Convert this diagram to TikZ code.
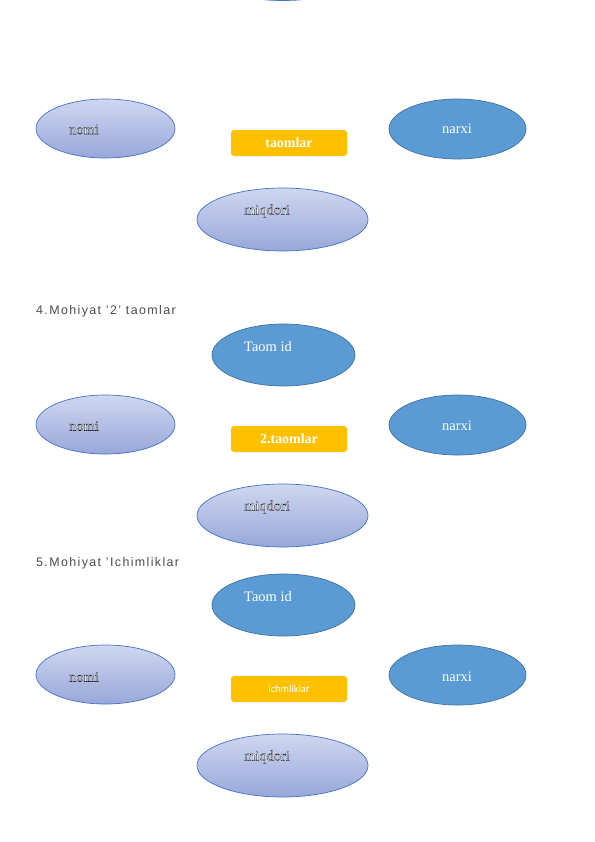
\documentclass[tikz,border=0pt]{standalone}
\usepackage{fontspec}
\setmainfont{Liberation Serif}
\newfontfamily\hdrfont[LetterSpace=11]{Liberation Sans}
\newfontfamily\boxsans{Carlito}
\usetikzlibrary{shapes.geometric}
\definecolor{lbtop}{HTML}{CFD7F0}
\definecolor{lbbot}{HTML}{97A7D9}
\definecolor{lbdraw}{HTML}{4472C4}
\definecolor{dbfill}{HTML}{5B9BD5}
\definecolor{dbdraw}{HTML}{41719C}
\definecolor{boxor}{HTML}{FFC000}
\newcommand\olt[1]{\special{pdf:literal direct 0 0 0 RG 2 Tr 0.2 w}#1\special{pdf:literal direct 0 Tr 0.4 w}}
\tikzset{
  lightell/.style={ellipse, draw=lbdraw, line width=0.7bp, top color=lbtop, bottom color=lbbot, inner sep=0pt},
  darkell/.style={ellipse, draw=dbdraw, line width=0.7bp, fill=dbfill, inner sep=0pt},
  entbox/.style={rectangle, rounded corners=3bp, fill=boxor, minimum width=116bp, minimum height=26bp, inner sep=0pt, text=white},
  elltxt/.style={text=white, font=\fontsize{14.5}{16}\selectfont, inner sep=0pt},
  hdr/.style={anchor=west, font=\hdrfont\fontsize{12.5}{14}\selectfont, text=black!70, inner sep=0pt},
  ellA/.style={minimum width=139bp, minimum height=59bp},
  ellB/.style={minimum width=137bp, minimum height=60bp},
  ellM/.style={minimum width=171bp, minimum height=63bp},
  ellT/.style={minimum width=143bp, minimum height=62bp},
}
\begin{document}
\begin{tikzpicture}[x=1bp, y=-1bp]
\useasboundingbox (0,0) rectangle (595,842);
\fill[white] (0,0) rectangle (595,842);

% fragment of shape from previous page
\begin{scope}
\clip (0,0) rectangle (595,842);
\node[lightell, ellM] (prevell) at (283,-31) {};
\end{scope}

% ---- section 1: taomlar
\node[lightell, ellA] (nomi1) at (105.5,128.5) {};
\node[elltxt] (nomi1t) at (84,129.5) {\olt{nomi}};
\node[darkell, ellB] (narxi1) at (457.5,129) {};
\node[elltxt] (narxi1t) at (457,129) {narxi};
\node[entbox, font=\bfseries\fontsize{14}{15}\selectfont] (box1) at (289,143) {taomlar};
\node[lightell, ellM] (miq1) at (282.5,219.5) {};
\node[elltxt] (miq1t) at (267,211) {\olt{miqdori}};

% ---- section 2: 2.taomlar
\node[hdr] (hdr2) at (36,311) {4.Mohiyat ’2’ taomlar};
\node[darkell, ellT] (tid2) at (283.5,355) {};
\node[elltxt] (tid2t) at (268,347) {Taom id};
\node[lightell, ellA] (nomi2) at (105.5,424.5) {};
\node[elltxt] (nomi2t) at (84,426) {\olt{nomi}};
\node[darkell, ellB] (narxi2) at (457.5,425) {};
\node[elltxt] (narxi2t) at (457,426) {narxi};
\node[entbox, font=\bfseries\fontsize{14}{15}\selectfont] (box2) at (289,439) {2.taomlar};
\node[lightell, ellM] (miq2) at (282.5,515.5) {};
\node[elltxt] (miq2t) at (267,507) {\olt{miqdori}};

% ---- section 3: ichmliklar
\node[hdr] (hdr3) at (36,563) {5.Mohiyat ’Ichimliklar};
\node[darkell, ellT] (tid3) at (283.5,605) {};
\node[elltxt] (tid3t) at (268,597) {Taom id};
\node[lightell, ellA] (nomi3) at (105.5,674.5) {};
\node[elltxt] (nomi3t) at (84,677) {\olt{nomi}};
\node[darkell, ellB] (narxi3) at (457.5,675) {};
\node[elltxt] (narxi3t) at (457,677) {narxi};
\node[entbox, font=\boxsans\fontsize{10.5}{12}\selectfont] (box3) at (289,689) {ichmliklar};
\node[lightell, ellM] (miq3) at (282.5,765.5) {};
\node[elltxt] (miq3t) at (267,757) {\olt{miqdori}};
\end{tikzpicture}
\end{document}
